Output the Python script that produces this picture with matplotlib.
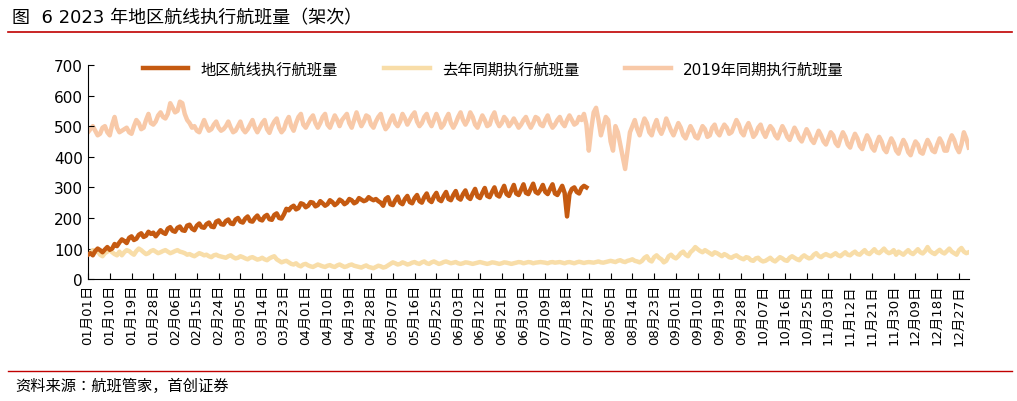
import matplotlib
matplotlib.use("Agg")
import matplotlib.pyplot as plt
import datetime as dt

plt.rcParams['font.family'] = ['DejaVu Sans', 'Noto Sans CJK SC', 'Noto Sans CJK JP', 'Noto Sans CJK TC', 'Noto Sans CJK KR']

regional = [80,85,78,92,100,95,88,97,105,96,100,115,108,120,
130,125,118,135,140,128,132,145,150,138,142,155,148,152,
140,150,160,152,148,165,170,158,155,168,172,160,158,175,
178,165,160,175,182,170,168,180,185,172,170,188,192,180,
178,190,195,182,180,195,200,188,185,198,205,190,188,200,
208,195,192,205,210,196,194,210,215,200,198,212,230,225,
235,240,228,232,248,245,235,240,252,250,238,242,255,248,
240,245,258,252,242,248,260,255,245,250,262,258,248,252,
265,260,255,258,268,262,258,262,255,250,240,262,268,245,
242,258,270,250,245,262,272,252,248,265,275,255,250,268,
280,258,252,270,282,260,255,272,285,262,258,275,288,265,
260,278,290,268,262,280,295,270,265,282,298,272,268,285,
300,275,270,288,305,278,272,290,308,280,275,292,310,282,
278,295,312,285,280,292,308,285,278,295,310,280,275,290,
305,282,205,278,295,300,285,280,298,305,300]

last_year = [90,85,95,88,92,80,75,85,90,95,88,82,78,90,
78,88,95,92,85,80,92,100,95,88,82,85,92,95,
90,85,88,92,95,90,85,88,92,95,90,88,85,80,
82,78,75,80,85,82,78,80,75,72,78,80,76,74,
72,70,75,78,72,68,70,75,72,68,65,70,72,68,
64,66,70,65,62,68,72,75,65,60,55,58,60,55,
50,48,52,45,42,48,50,45,42,40,44,48,45,42,
40,44,46,42,40,45,48,44,40,42,46,48,44,42,
40,38,42,45,40,38,36,40,44,42,38,40,45,50,
55,52,48,50,55,52,48,50,54,56,52,50,55,58,
52,50,55,58,54,50,52,56,58,55,52,54,56,52,
50,52,55,54,52,50,52,54,56,54,52,50,52,55,
54,52,50,52,55,54,52,50,52,54,56,55,52,54,
56,55,52,54,55,56,55,54,52,55,56,54,55,56,
54,52,55,56,54,52,55,57,55,53,55,56,55,54,
56,58,55,54,56,58,60,58,56,60,62,58,56,60,
62,65,60,58,55,60,70,75,62,58,72,78,70,65,
55,60,75,80,72,68,75,85,90,80,75,88,95,105,
98,92,88,95,90,85,80,88,85,80,75,82,78,72,
70,75,78,72,68,65,72,70,62,60,68,70,62,58,
60,65,70,62,58,65,72,68,62,60,70,75,70,65,
62,72,78,72,68,70,80,85,76,72,78,82,78,75,
80,85,78,75,82,88,80,78,85,90,82,80,88,95,
85,82,90,98,88,85,92,100,90,85,88,95,80,90,
85,80,88,95,86,82,90,98,88,84,92,105,92,86,
82,90,96,88,84,92,100,90,85,80,95,102,90,85,
88,84,92,98,88,85,90]

y2019 = [480,490,500,485,470,475,495,500,480,470,505,530,495,480,
485,490,495,480,475,500,520,510,490,495,520,540,510,505,
515,535,545,530,525,540,575,560,545,550,580,575,540,520,
510,495,500,485,480,500,520,500,485,490,505,515,495,485,
490,500,515,495,480,485,500,515,490,480,490,505,520,495,
480,495,510,520,490,478,500,515,525,495,480,490,515,530,
500,485,510,530,540,505,495,510,525,535,510,495,510,530,
540,505,495,515,535,520,500,520,530,540,510,495,520,545,
520,500,515,535,530,505,495,515,530,540,510,490,500,520,
535,510,500,515,540,525,505,520,535,545,515,500,510,530,
540,515,500,520,540,520,495,505,525,540,510,495,510,530,
545,520,505,520,545,530,505,495,515,535,520,500,505,530,
545,515,500,510,530,520,500,510,525,510,495,505,520,530,
510,495,510,530,525,505,500,520,535,510,495,505,520,530,
510,500,520,535,520,505,510,530,520,540,505,420,490,545,
560,520,470,500,530,520,450,420,500,480,440,400,360,420,
480,500,520,490,470,500,525,510,480,470,500,520,490,475,
495,525,505,485,470,490,510,495,470,460,480,500,485,465,
460,480,500,490,465,470,495,505,480,470,490,505,495,475,
480,500,520,505,480,470,495,510,490,465,475,495,505,480,
465,485,500,490,470,460,480,500,485,465,455,475,495,480,
460,450,470,490,475,455,445,465,485,470,450,440,460,480,
470,445,435,460,480,465,440,430,455,475,460,435,425,450,
470,455,430,420,445,465,450,425,415,440,460,445,420,410,
435,455,440,415,405,430,450,440,415,410,435,455,440,420,
415,440,460,445,420,420,450,470,455,430,415,440,480,460,
430]

n_days = 365
last_year = last_year[:n_days]
y2019 = y2019[:n_days]

start = dt.date(2023, 1, 1)
tick_idx = list(range(0, n_days, 9))
tick_labels = [(start + dt.timedelta(days=i)).strftime("%m月%d日") for i in tick_idx]

fig = plt.figure(figsize=(10.17, 4.02), dpi=100)
ax = fig.add_axes([0.0865, 0.303, 0.866, 0.533])
ax.plot(range(len(y2019)), y2019, color='#F8C9A8', lw=3.2, label='2019年同期执行航班量', zorder=1)
ax.plot(range(len(last_year)), last_year, color='#F8DDA8', lw=3.2, label='去年同期执行航班量', zorder=2)
ax.plot(range(len(regional)), regional, color='#C55A11', lw=3.2, label='地区航线执行航班量', zorder=3)

ax.set_xlim(0, n_days - 1)
ax.set_ylim(0, 700)
ax.set_yticks(range(0, 701, 100))
ax.set_xticks(tick_idx)
ax.set_xticklabels(tick_labels, rotation=90, fontsize=9.5)
ax.tick_params(axis='y', direction='in', labelsize=11, length=4)
ax.tick_params(axis='x', direction='in', length=4)
for s in ['top', 'right']:
    ax.spines[s].set_visible(False)

h, l = ax.get_legend_handles_labels()
order = [2, 1, 0]
ax.legend([h[i] for i in order], [l[i] for i in order], ncol=3, frameon=False,
          loc='upper center', bbox_to_anchor=(0.46, 1.08), fontsize=11, handlelength=3, columnspacing=3)

fig.text(0.012, 0.955, '图  6 2023 年地区航线执行航班量（架次）', fontsize=13, va='center')
fig.add_artist(plt.Line2D([0.008, 0.995], [0.918, 0.918], color='#C00000', lw=1.2))
fig.add_artist(plt.Line2D([0.008, 0.995], [0.075, 0.075], color='#C00000', lw=1.0))
fig.text(0.015, 0.04, '资料来源：航班管家，首创证券', fontsize=11, style='italic', va='center')

fig.savefig('out.png', dpi=100)
